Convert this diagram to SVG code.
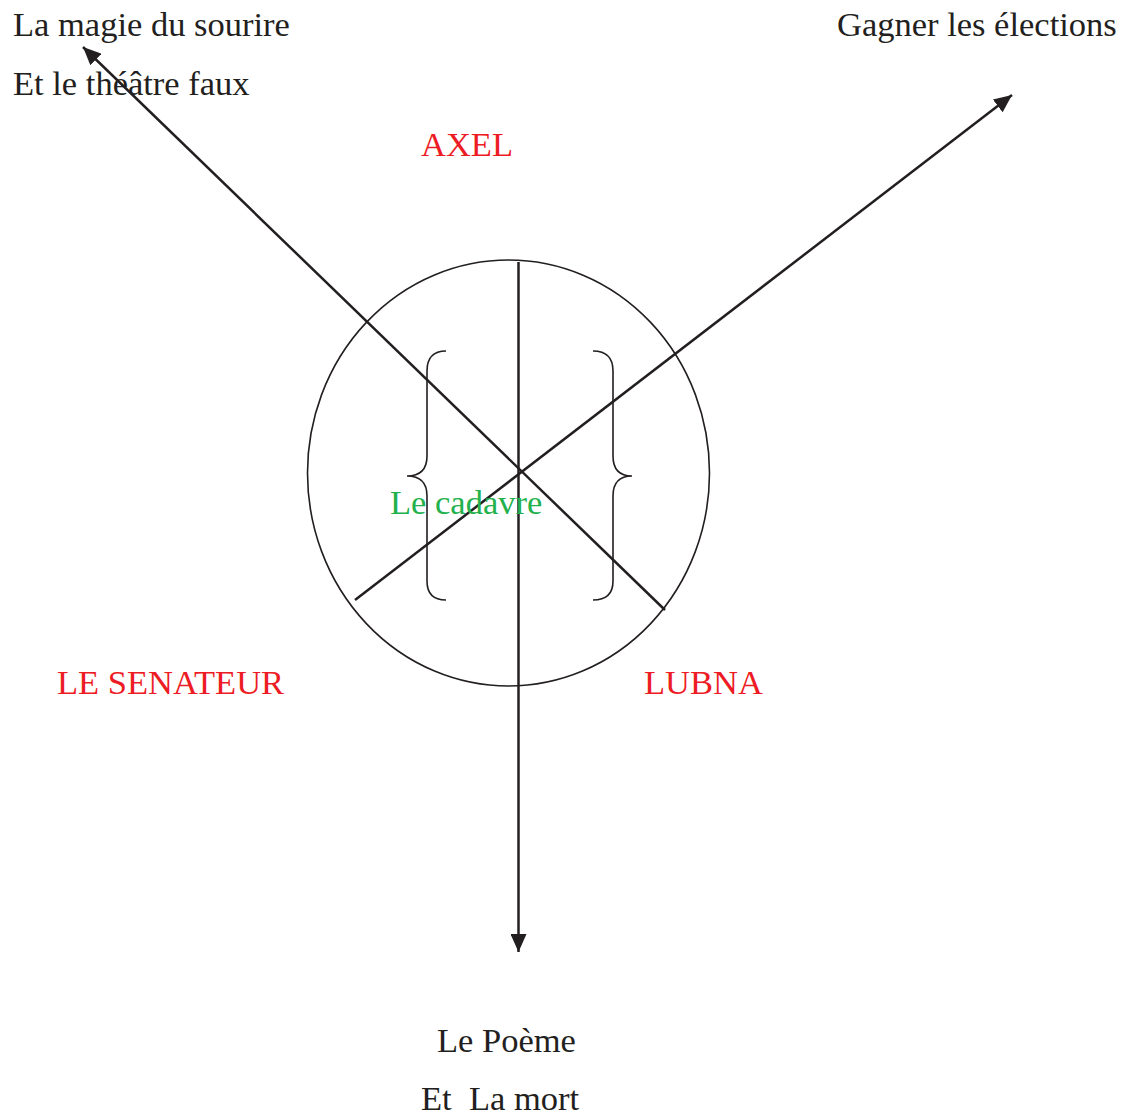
<svg xmlns="http://www.w3.org/2000/svg" width="1124" height="1115" viewBox="0 0 1124 1115">
<style>
text{font-family:"Liberation Serif","Times New Roman",serif;font-size:34.5px;fill:#231f20}
.red{fill:#ed1c24}
.green{fill:#22b14c}
.ln{stroke:#231f20;stroke-width:2.5;fill:none}
.thin{stroke:#231f20;stroke-width:1.6;fill:none}
</style>
<defs>
<marker id="ah" markerUnits="userSpaceOnUse" viewBox="0 0 18 16" refX="18" refY="8" markerWidth="18" markerHeight="16" orient="auto">
<path d="M0,0 L18,8 L0,16 z" fill="#231f20"/>
</marker>
</defs>
<rect width="1124" height="1115" fill="#fff"/>
<g id="circle"><ellipse class="thin" cx="508.5" cy="473" rx="201" ry="213"/></g>
<g id="braces">
<path class="thin" d="M446,351 Q427,351 427,371 L427,456 Q427,476 407,476 Q427,476 427,496 L427,581 Q427,600 446,600"/>
<path class="thin" d="M593,351 Q613,351 613,371 L613,456 Q613,476 632,476 Q613,476 613,496 L613,581 Q613,600 593,600"/>
</g>
<g id="connectors">
<line class="ln" x1="518.5" y1="262" x2="518.5" y2="952" marker-end="url(#ah)"/>
<line class="ln" x1="665" y1="610" x2="83" y2="47" marker-end="url(#ah)"/>
<line class="ln" x1="355" y1="600" x2="1012" y2="95" marker-end="url(#ah)"/>
</g>
<g id="n-sourire"><text x="13" y="36">La magie du sourire</text><text x="13" y="95">Et le théâtre faux</text></g>
<g id="n-elections"><text x="837" y="36">Gagner les élections</text></g>
<g id="n-axel"><text class="red" x="421" y="156">AXEL</text></g>
<g id="n-senateur"><text class="red" x="57" y="694">LE SENATEUR</text></g>
<g id="n-lubna"><text class="red" x="644" y="694">LUBNA</text></g>
<g id="n-cadavre"><text class="green" x="390" y="514">Le cadavre</text></g>
<g id="n-poeme"><text x="437" y="1052">Le Poème</text><text x="421" y="1110" xml:space="preserve">Et  La mort</text></g>
</svg>
